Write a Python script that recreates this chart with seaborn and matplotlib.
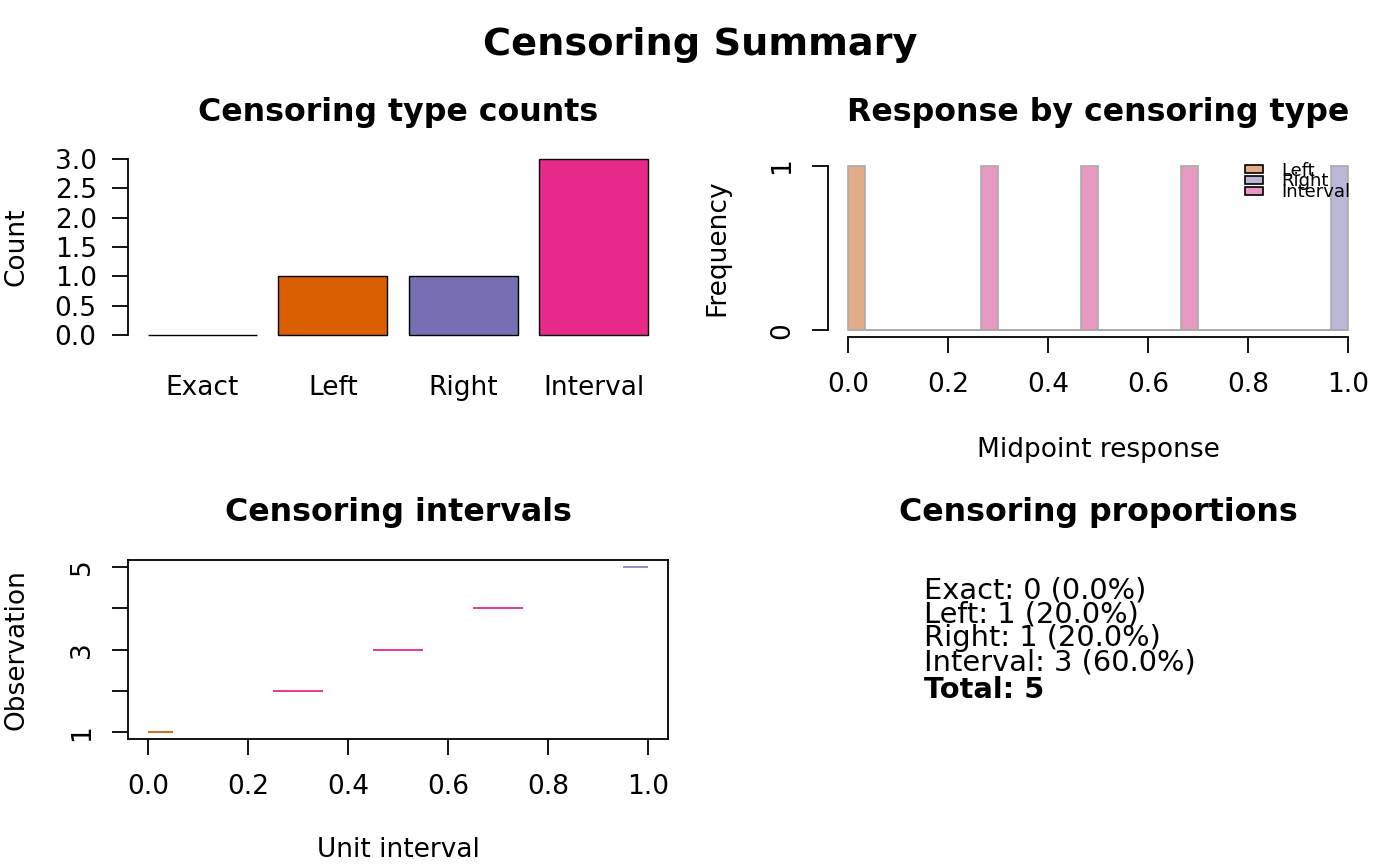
import numpy as np
import pandas as pd
import matplotlib
matplotlib.use("Agg")
import matplotlib.pyplot as plt
import seaborn as sns
from matplotlib.patches import Patch

# data
categories = ["Exact", "Left", "Right", "Interval"]
counts = [0, 1, 1, 3]
bar_colors = ["#1B9E77", "#D95F02", "#7570B3", "#E7298A"]

obs_lower = [0.0, 0.25, 0.45, 0.65, 0.95]
obs_upper = [0.05, 0.35, 0.55, 0.75, 1.0]
obs_type = ["Left", "Interval", "Interval", "Interval", "Right"]

hist_types = ["Left", "Right", "Interval"]
hist_colors = ["#E1AC87", "#BAB8D6", "#E699C1"]
seg_colors = {"Left": "#D95F02", "Right": "#8A86C2", "Interval": "#E7298A"}
n_bins = 30

sns.set_style("white", rc={
    "xtick.bottom": True, "ytick.left": True,
    "text.color": "black", "axes.labelcolor": "black",
    "xtick.color": "black", "ytick.color": "black",
})
plt.rcParams["font.family"] = ["DejaVu Sans"]

W, H = 1400, 866
fig = plt.figure(figsize=(14, 8.66), dpi=100)


def px_axes(left, top, right, bottom):
    return fig.add_axes([left / W, 1 - bottom / H, (right - left) / W, (bottom - top) / H])


TICK = 19
tick_kw = dict(direction="out", length=11.5, width=1.3, labelsize=TICK,
               color="black", labelcolor="black")

fig.text(700 / W, 1 - 45 / H, "Censoring Summary", ha="center", va="center",
         fontsize=27.5, fontweight="bold")

# panel 1: counts
ax1 = px_axes(128, 152, 668, 342)
df_counts = pd.DataFrame({"type": categories, "count": counts})
sns.barplot(data=df_counts, x="type", y="count", hue="type", palette=bar_colors,
            order=categories, width=0.8333, edgecolor="black", linewidth=1.0,
            saturation=1, legend=False, ax=ax1)
ax1.set_xlim(-0.57, 3.57)
ax1.set_ylim(-0.12, 3.12)
ax1.set_yticks(np.arange(0, 3.01, 0.5))
ax1.set_yticklabels([f"{v:.1f}" for v in np.arange(0, 3.01, 0.5)])
for s in ["top", "right", "bottom"]:
    ax1.spines[s].set_visible(False)
ax1.spines["left"].set_bounds(0, 3)
ax1.spines["left"].set_linewidth(1.3)
ax1.spines["left"].set_color("black")
ax1.tick_params(axis="y", pad=11, **tick_kw)
ax1.tick_params(axis="x", length=0, pad=24, labelsize=TICK, labelcolor="black")
ax1.set_xlabel("")
ax1.set_ylabel("Count", fontsize=TICK)
ax1.yaxis.set_label_coords(-0.2056, 0.5)
ax1.yaxis.label.set_va("center")
fig.text(398 / W, 1 - 112 / H, "Censoring type counts", ha="center", va="center",
         fontsize=22.8, fontweight="bold")

# panel 2: histogram of midpoints (bins closed on the right, as in R's hist)
ax2 = px_axes(828, 159, 1368, 337)
mids = [(lo + up) / 2 for lo, up in zip(obs_lower, obs_upper)]
df_mid = pd.DataFrame({"mid": mids, "type": obs_type})
edges = np.linspace(0, 1, n_bins + 1) + 1e-9
edges[0] = 0.0
sns.histplot(data=df_mid, x="mid", hue="type", hue_order=hist_types, bins=edges,
             multiple="layer", palette=hist_colors, alpha=1, edgecolor="#AAAAAA",
             linewidth=1.2, legend=False, ax=ax2)
ax2.set_xlim(-0.04, 1.04)
ax2.set_ylim(-0.04, 1.04)
ax2.set_xticks(np.arange(0, 1.01, 0.2))
ax2.set_xticklabels([f"{v:.1f}" for v in np.arange(0, 1.01, 0.2)])
ax2.set_yticks([0, 1])
for s in ["top", "right"]:
    ax2.spines[s].set_visible(False)
ax2.spines["left"].set_bounds(0, 1)
ax2.spines["bottom"].set_bounds(0, 1)
for s in ["left", "bottom"]:
    ax2.spines[s].set_linewidth(1.3)
    ax2.spines[s].set_color("black")
ax2.tick_params(axis="x", pad=14, **tick_kw)
ax2.tick_params(axis="y", pad=12, labelrotation=90, **tick_kw)
for lab in ax2.get_yticklabels():
    lab.set_va("center")
ax2.set_xlabel("Midpoint response", fontsize=TICK)
ax2.set_ylabel("Frequency", fontsize=TICK)
ax2.yaxis.set_label_coords(-0.2056, 0.5)
ax2.yaxis.label.set_va("center")
ax2.xaxis.set_label_coords(0.5, -0.635)
ax2.xaxis.label.set_va("center")
handles = [Patch(facecolor=c, edgecolor="black", linewidth=1.2) for c in hist_colors]
ax2.legend(handles, hist_types, loc="upper left", bbox_to_anchor=(0.772, 0.985),
           frameon=False, fontsize=13, handlelength=1.0, handleheight=0.3,
           labelspacing=-0.4, handletextpad=1.0, borderpad=0, borderaxespad=0)
fig.text(1098 / W, 1 - 112 / H, "Response by censoring type", ha="center", va="center",
         fontsize=22.8, fontweight="bold")

# panel 3: intervals
ax3 = px_axes(128, 560, 668, 739)
obs_idx = np.arange(1, len(obs_lower) + 1)
ax3.hlines(obs_idx, obs_lower, obs_upper, colors=[seg_colors[t] for t in obs_type],
           linewidth=1.3)
ax3.set_xlim(-0.04, 1.04)
ax3.set_ylim(0.84, 5.16)
ax3.set_xticks(np.arange(0, 1.01, 0.2))
ax3.set_xticklabels([f"{v:.1f}" for v in np.arange(0, 1.01, 0.2)])
ax3.set_yticks(obs_idx)
ax3.set_yticklabels([str(i) if i % 2 == 1 else "" for i in obs_idx])
for s in ax3.spines.values():
    s.set_linewidth(1.3)
    s.set_color("black")
ax3.tick_params(axis="x", pad=14, **tick_kw)
ax3.tick_params(axis="y", pad=12, labelrotation=90, **tick_kw)
for lab in ax3.get_yticklabels():
    lab.set_va("center")
ax3.set_xlabel("Unit interval", fontsize=TICK)
ax3.set_ylabel("Observation", fontsize=TICK)
ax3.yaxis.set_label_coords(-0.2056, 0.5)
ax3.yaxis.label.set_va("center")
ax3.xaxis.set_label_coords(0.5, -0.62)
ax3.xaxis.label.set_va("center")
fig.text(398 / W, 1 - 513 / H, "Censoring intervals", ha="center", va="center",
         fontsize=22.8, fontweight="bold")

# panel 4: proportions text
fig.text(1098 / W, 1 - 513 / H, "Censoring proportions", ha="center", va="center",
         fontsize=22.8, fontweight="bold")
total = sum(counts)
lines = [f"{c}: {n} ({100 * n / total:.1f}%)" for c, n in zip(categories, counts)]
line_y = [590, 614, 638, 663]
for txt, y in zip(lines, line_y):
    fig.text(924 / W, 1 - y / H, txt, ha="left", va="center", fontsize=20.8)
fig.text(924 / W, 1 - 690 / H, f"Total: {total}", ha="left", va="center",
         fontsize=20.8, fontweight="bold")

fig.savefig("out.png", dpi=100)
plt.close(fig)
